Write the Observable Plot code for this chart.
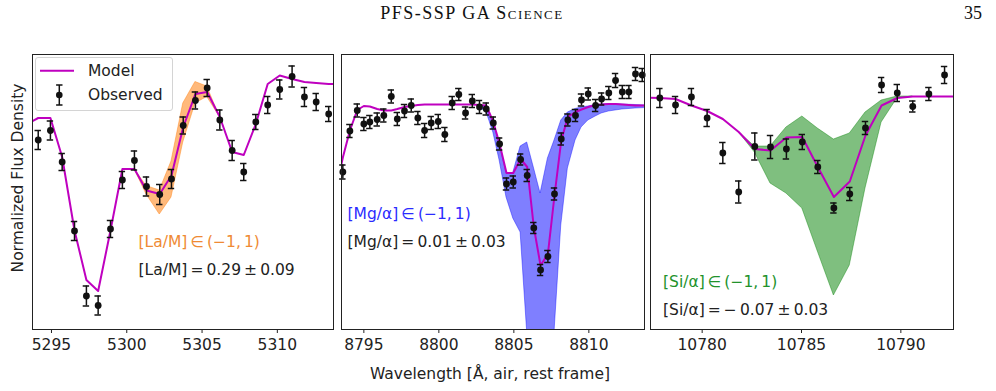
<!DOCTYPE html>
<html><head><meta charset="utf-8">
<script src="https://cdn.jsdelivr.net/npm/d3@7"></script>
<script src="https://cdn.jsdelivr.net/npm/@observablehq/plot@0.6"></script>
<style>
body{margin:0;background:#fff;}
#root{position:relative;width:996px;height:391px;overflow:hidden;font-family:"DejaVu Sans",sans-serif;color:#222;background:#fff;}
.abs{position:absolute;white-space:nowrap;}
</style></head><body><div id="root"></div>
<script>
// ---------- Panel 1: [La/M] ----------
const laTicks = [5295, 5300, 5305, 5310];
const laObsWave = [5294.12, 5294.93, 5295.71, 5296.53, 5297.32, 5298.10, 5298.92, 5299.71, 5300.51, 5301.31, 5302.19, 5302.97, 5303.75, 5304.56, 5305.34, 5306.18, 5307.00, 5307.77, 5308.57, 5309.36, 5310.16, 5310.98, 5311.80, 5312.58, 5313.41];
const laObsFlux = [0.889, 0.908, 0.845, 0.707, 0.577, 0.558, 0.711, 0.809, 0.848, 0.796, 0.780, 0.811, 0.918, 0.968, 0.993, 0.929, 0.868, 0.825, 0.925, 0.959, 0.990, 1.016, 0.975, 0.965, 0.941];
const laObsErr = [0.019, 0.019, 0.017, 0.019, 0.020, 0.019, 0.017, 0.017, 0.019, 0.019, 0.020, 0.019, 0.017, 0.017, 0.017, 0.020, 0.020, 0.017, 0.015, 0.017, 0.019, 0.021, 0.019, 0.017, 0.015];
const laModelWave = [5293.30, 5294.12, 5294.93, 5295.71, 5296.53, 5297.32, 5298.10, 5298.92, 5299.71, 5300.51, 5301.31, 5302.19, 5302.97, 5303.75, 5304.56, 5305.34, 5306.18, 5307.00, 5307.77, 5308.57, 5309.36, 5310.16, 5310.98, 5311.80, 5312.58, 5313.41, 5314.20];
const laModelFlux = [0.920, 0.933, 0.933, 0.855, 0.708, 0.609, 0.587, 0.708, 0.831, 0.831, 0.788, 0.781, 0.818, 0.915, 0.981, 0.985, 0.935, 0.865, 0.859, 0.921, 1.001, 1.018, 1.011, 1.005, 1.003, 1.001, 1.001];
const laBandWave = [5300.51, 5301.31, 5302.19, 5302.97, 5303.75, 5304.56, 5305.34, 5306.18];
const laBandHi = [0.831, 0.797, 0.788, 0.846, 0.962, 1.005, 0.996, 0.935];
const laBandLo = [0.831, 0.780, 0.740, 0.774, 0.884, 0.962, 0.975, 0.935];
const laRangeText = "[La/M]\u2009\u2208\u2009(\u22121,\u20091)";
const laValueText = "[La/M]\u2009=\u20090.29\u2009\u00b1\u20090.09";

// ---------- Panel 2: [Mg/alpha] ----------
const mgTicks = [8795, 8800, 8805, 8810];
const mgObsWave = [8793.60, 8794.07, 8794.56, 8795.00, 8795.40, 8795.89, 8796.33, 8796.83, 8797.23, 8797.71, 8798.16, 8798.60, 8799.05, 8799.49, 8799.96, 8800.40, 8800.89, 8801.33, 8801.78, 8802.23, 8802.71, 8803.16, 8803.63, 8804.05, 8804.51, 8804.96, 8805.45, 8805.89, 8806.33, 8806.78, 8807.27, 8807.71, 8808.16, 8808.60, 8809.11, 8809.51, 8809.96, 8810.45, 8810.85, 8811.33, 8811.78, 8812.23, 8812.67, 8813.11, 8813.56];
const mgObsFlux = [0.865, 0.947, 0.988, 0.961, 0.965, 0.970, 0.978, 1.016, 0.971, 0.987, 0.998, 0.973, 0.948, 0.963, 0.966, 0.940, 1.003, 1.020, 0.983, 1.007, 0.995, 0.991, 0.963, 0.921, 0.841, 0.845, 0.890, 0.858, 0.753, 0.669, 0.696, 0.821, 0.931, 0.969, 0.978, 1.009, 1.021, 0.998, 1.011, 1.023, 1.048, 1.025, 1.025, 1.061, 1.059];
const mgObsErr = [0.014, 0.013, 0.013, 0.013, 0.013, 0.013, 0.013, 0.013, 0.013, 0.013, 0.013, 0.013, 0.014, 0.013, 0.014, 0.014, 0.013, 0.012, 0.012, 0.013, 0.013, 0.012, 0.012, 0.012, 0.012, 0.012, 0.011, 0.012, 0.011, 0.011, 0.012, 0.012, 0.012, 0.012, 0.012, 0.012, 0.012, 0.012, 0.012, 0.013, 0.014, 0.013, 0.013, 0.013, 0.013];
const mgModelWave = [8793.15, 8793.60, 8794.07, 8794.56, 8795.00, 8795.40, 8795.89, 8796.33, 8796.83, 8797.23, 8797.71, 8798.16, 8798.60, 8799.05, 8799.49, 8799.96, 8800.40, 8800.89, 8801.33, 8801.78, 8802.23, 8802.71, 8803.16, 8803.63, 8804.05, 8804.51, 8804.96, 8805.45, 8805.89, 8806.33, 8806.78, 8807.27, 8807.71, 8808.16, 8808.60, 8809.11, 8809.51, 8809.96, 8810.45, 8810.85, 8811.33, 8811.78, 8812.23, 8812.67, 8813.11, 8813.56, 8813.90];
const mgModelFlux = [0.831, 0.894, 0.948, 0.989, 0.997, 0.996, 0.991, 0.988, 0.988, 0.991, 0.995, 0.997, 0.999, 1.000, 1.000, 1.000, 1.000, 1.000, 1.000, 1.000, 1.000, 0.999, 0.998, 0.965, 0.921, 0.863, 0.863, 0.891, 0.875, 0.755, 0.678, 0.701, 0.818, 0.928, 0.975, 0.985, 0.990, 0.995, 0.999, 1.000, 1.001, 1.001, 1.000, 0.999, 0.998, 0.998, 0.998];
const mgBandWave = [8802.71, 8803.16, 8803.63, 8804.05, 8804.51, 8804.96, 8805.45, 8805.89, 8806.33, 8806.78, 8807.27, 8807.71, 8808.16, 8808.60, 8809.11, 8809.51, 8809.96, 8810.45, 8810.85, 8811.33, 8812.23, 8813.11, 8813.90];
const mgBandHi = [0.995, 0.998, 0.965, 0.922, 0.863, 0.863, 0.916, 0.924, 0.874, 0.822, 0.892, 0.928, 0.968, 0.984, 0.991, 0.994, 0.996, 0.999, 1.000, 1.001, 1.000, 0.999, 0.998];
const mgBandLo = [0.993, 0.986, 0.944, 0.888, 0.814, 0.772, 0.744, 0.544, 0.308, 0.308, 0.308, 0.544, 0.758, 0.872, 0.928, 0.954, 0.968, 0.976, 0.982, 0.986, 0.990, 0.992, 0.993];
const mgRangeText = "[Mg/\u03b1]\u2009\u2208\u2009(\u22121,\u20091)";
const mgValueText = "[Mg/\u03b1]\u2009=\u20090.01\u2009\u00b1\u20090.03";

// ---------- Panel 3: [Si/alpha] ----------
const siTicks = [10780, 10785, 10790];
const siObsWave = [10777.87, 10778.66, 10779.46, 10780.25, 10781.04, 10781.84, 10782.65, 10783.44, 10784.24, 10785.04, 10785.82, 10786.63, 10787.43, 10788.22, 10789.03, 10789.82, 10790.60, 10791.41, 10792.20];
const siObsFlux = [0.993, 0.979, 0.995, 0.953, 0.883, 0.805, 0.896, 0.895, 0.891, 0.905, 0.855, 0.773, 0.801, 0.933, 1.019, 1.003, 0.976, 1.001, 1.039];
const siObsErr = [0.019, 0.017, 0.017, 0.017, 0.021, 0.022, 0.027, 0.023, 0.020, 0.015, 0.013, 0.010, 0.013, 0.013, 0.015, 0.017, 0.011, 0.013, 0.017];
const siModelWave = [10777.07, 10777.87, 10778.66, 10779.46, 10780.25, 10781.04, 10781.84, 10782.65, 10783.44, 10784.24, 10785.04, 10785.82, 10786.63, 10787.43, 10788.22, 10789.03, 10789.82, 10790.60, 10791.41, 10792.20, 10793.00];
const siModelFlux = [0.994, 0.993, 0.991, 0.978, 0.967, 0.951, 0.925, 0.891, 0.888, 0.914, 0.915, 0.855, 0.795, 0.826, 0.918, 0.978, 0.993, 0.996, 0.996, 0.996, 0.996];
const siBandWave = [10781.84, 10782.65, 10783.44, 10784.24, 10785.04, 10785.82, 10786.63, 10787.43, 10788.22, 10789.03, 10789.82, 10790.60];
const siBandHi = [0.925, 0.896, 0.896, 0.934, 0.956, 0.932, 0.910, 0.922, 0.964, 0.988, 0.996, 0.996];
const siBandLo = [0.925, 0.884, 0.822, 0.802, 0.772, 0.686, 0.598, 0.658, 0.812, 0.944, 0.992, 0.996];
const siRangeText = "[Si/\u03b1]\u2009\u2208\u2009(\u22121,\u20091)";
const siValueText = "[Si/\u03b1]\u2009=\u2009\u2212\u20090.07\u2009\u00b1\u20090.03";

// ---------- Text ----------
const headerText = "PFS-SSP GA Science";
const pageNumber = "35";
const yLabel = "Normalized Flux Density";
const xLabel = "Wavelength [\u00c5, air, rest frame]";
const legendLabels = ["Model", "Observed"];

const MODEL_COLOR = "#bf00bf";
const FONT = "DejaVu Sans";
const FS = 15.5;
const TOP = 54, BOTTOM = 329;
const root = document.getElementById("root");

function makePanel(c) {
  const ML = 25, MR = 25, MT = 6, MB = 40;
  const fw = c.right - c.left, fh = BOTTOM - TOP;
  const pxPerUnit = fw / (c.xDomain[1] - c.xDomain[0]);
  const cap = 3.2 / pxPerUnit;
  const obs = c.obsWave.map((w, i) => ({w, f: c.obsFlux[i], e: c.obsErr[i]}));
  const model = c.modelWave.map((w, i) => ({w, f: c.modelFlux[i]}));
  const band = c.bandWave.map((w, i) => ({w, lo: c.bandLo[i], hi: c.bandHi[i]}));
  const svg = Plot.plot({
    width: fw + ML + MR, height: fh + MT + MB,
    marginLeft: ML, marginRight: MR, marginTop: MT, marginBottom: MB,
    style: {background: "transparent", overflow: "visible", fontFamily: FONT, fontSize: FS + "px", color: "#222"},
    x: {domain: c.xDomain, ticks: c.ticks, tickFormat: d => String(d), tickSize: 4, tickPadding: 5, label: null},
    y: {domain: c.yDomain, axis: null},
    marks: [
      Plot.areaY(band, {x: "w", y1: "lo", y2: "hi", fill: c.bandColor, fillOpacity: c.bandOpacity,
        stroke: c.bandColor, strokeOpacity: c.bandOpacity, strokeWidth: 0.8, clip: true}),
      Plot.line(model, {x: "w", y: "f", stroke: MODEL_COLOR, strokeWidth: 2, clip: true}),
      Plot.ruleX(obs, {x: "w", y1: d => d.f - d.e, y2: d => d.f + d.e, stroke: "#111", strokeWidth: 1.5}),
      Plot.ruleY(obs, {x1: d => d.w - cap, x2: d => d.w + cap, y: d => d.f - d.e, stroke: "#111", strokeWidth: 1.5}),
      Plot.ruleY(obs, {x1: d => d.w - cap, x2: d => d.w + cap, y: d => d.f + d.e, stroke: "#111", strokeWidth: 1.5}),
      Plot.dot(obs, {x: "w", y: "f", r: 3.4, fill: "#111", stroke: "none"}),
      Plot.frame({stroke: "#222", strokeWidth: 1}),
      Plot.text([c.rangeText], {frameAnchor: "top-left", dx: c.textDx, dy: c.textDy, text: d => d,
        fill: c.textColor, textAnchor: "start", lineAnchor: "middle", fontSize: FS}),
      Plot.text([c.valueText], {frameAnchor: "top-left", dx: c.textDx, dy: c.textDy + 27.5, text: d => d,
        fill: "#222", textAnchor: "start", lineAnchor: "middle", fontSize: FS})
    ]
  });
  svg.style.position = "absolute";
  svg.style.left = (c.left - ML) + "px";
  svg.style.top = (TOP - MT) + "px";
  root.appendChild(svg);
}

makePanel({left: 32, right: 333, xDomain: [5293.74, 5313.73], yDomain: [0.51, 1.06], ticks: laTicks,
  obsWave: laObsWave, obsFlux: laObsFlux, obsErr: laObsErr, modelWave: laModelWave, modelFlux: laModelFlux,
  bandWave: laBandWave, bandHi: laBandHi, bandLo: laBandLo, bandColor: "#ff7f0e", bandOpacity: 0.55,
  rangeText: laRangeText, valueText: laValueText, textColor: "#ef8a34", textDx: 106, textDy: 188});

makePanel({left: 341, right: 644, xDomain: [8793.51, 8813.71], yDomain: [0.55, 1.10], ticks: mgTicks,
  obsWave: mgObsWave, obsFlux: mgObsFlux, obsErr: mgObsErr, modelWave: mgModelWave, modelFlux: mgModelFlux,
  bandWave: mgBandWave, bandHi: mgBandHi, bandLo: mgBandLo, bandColor: "#0000ff", bandOpacity: 0.5,
  rangeText: mgRangeText, valueText: mgValueText, textColor: "#2b2bff", textDx: 6, textDy: 160});

makePanel({left: 650, right: 953, xDomain: [10777.40, 10792.65], yDomain: [0.53, 1.08], ticks: siTicks,
  obsWave: siObsWave, obsFlux: siObsFlux, obsErr: siObsErr, modelWave: siModelWave, modelFlux: siModelFlux,
  bandWave: siBandWave, bandHi: siBandHi, bandLo: siBandLo, bandColor: "#008000", bandOpacity: 0.5,
  rangeText: siRangeText, valueText: siValueText, textColor: "#22922b", textDx: 12.5, textDy: 227.7});

function addDiv(text, css) {
  const d = document.createElement("div");
  d.className = "abs";
  d.textContent = text;
  Object.assign(d.style, css);
  root.appendChild(d);
  return d;
}

// header
addDiv(headerText, {left: "0px", width: "944px", top: "2px", textAlign: "center", fontFamily: "'Liberation Serif', serif",
  fontVariant: "small-caps", fontSize: "18px", lineHeight: "22px", color: "#111", letterSpacing: "1.5px"});
addDiv(pageNumber, {right: "14px", top: "2px", fontFamily: "'Liberation Serif', serif", fontSize: "18px", lineHeight: "22px", color: "#111"});

// axis labels
addDiv(yLabel, {left: "17.5px", top: "178px", transform: "translate(-50%,-50%) rotate(-90deg)", fontSize: FS + "px", lineHeight: "18px"});
addDiv(xLabel, {left: "490px", top: "374px", transform: "translate(-50%,-50%)", fontSize: FS + "px", lineHeight: "18px"});

// legend
const leg = document.createElement("div");
leg.className = "abs";
Object.assign(leg.style, {left: "35px", top: "57px", width: "138px", height: "54px", boxSizing: "border-box",
  border: "1px solid #d4d4d4", borderRadius: "3px", background: "rgba(255,255,255,0.85)"});
root.appendChild(leg);
const ns = "http://www.w3.org/2000/svg";
const lsvg = document.createElementNS(ns, "svg");
lsvg.setAttribute("width", "138"); lsvg.setAttribute("height", "54");
lsvg.style.position = "absolute"; lsvg.style.left = "35px"; lsvg.style.top = "57px";
lsvg.innerHTML =
  `<line x1="5" x2="39" y1="13.7" y2="13.7" stroke="${MODEL_COLOR}" stroke-width="2"/>` +
  `<line x1="24.3" x2="24.3" y1="28" y2="48" stroke="#111" stroke-width="1.5"/>` +
  `<line x1="21.1" x2="27.5" y1="28" y2="28" stroke="#111" stroke-width="1.5"/>` +
  `<line x1="21.1" x2="27.5" y1="48" y2="48" stroke="#111" stroke-width="1.5"/>` +
  `<circle cx="24.3" cy="38" r="3.3" fill="#111"/>`;
root.appendChild(lsvg);
addDiv(legendLabels[0], {left: "88px", top: "70.7px", transform: "translateY(-50%)", fontSize: FS + "px", lineHeight: "18px"});
addDiv(legendLabels[1], {left: "88px", top: "95px", transform: "translateY(-50%)", fontSize: FS + "px", lineHeight: "18px"});
</script></body></html>
